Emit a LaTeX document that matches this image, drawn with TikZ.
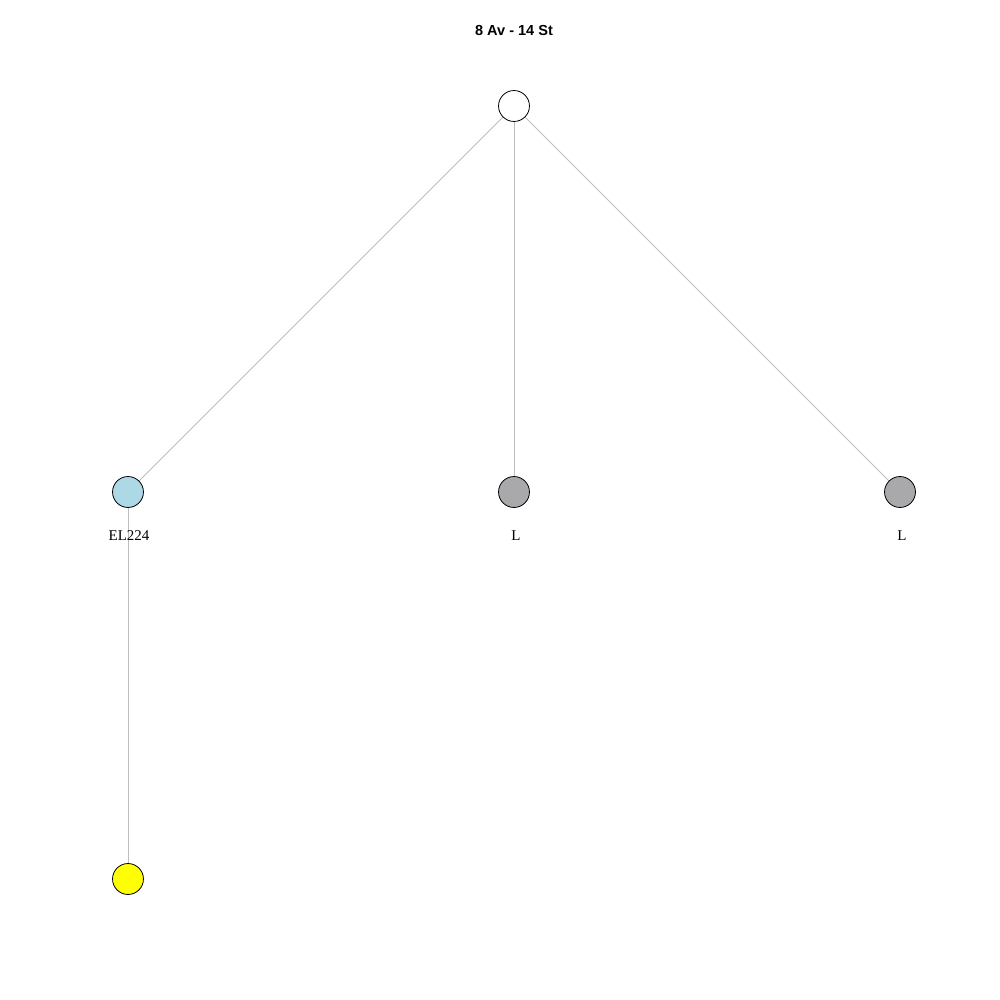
\documentclass[tikz,border=0pt]{standalone}
\usepackage{fontspec}
\setmainfont{Liberation Serif}
\setsansfont{Liberation Sans}
\definecolor{nodeblue}{HTML}{ADD8E6}
\definecolor{nodegray}{HTML}{A9A9AC}
\definecolor{nodeyellow}{HTML}{FFFF00}
\definecolor{edgegray}{HTML}{BEBEBE}
\begin{document}
\begin{tikzpicture}[x=0.75pt,y=-0.75pt,
  vert/.style={circle,draw=black,line width=0.6pt,minimum size=23.2pt,inner sep=0pt},
  edge/.style={draw=edgegray,line width=0.6pt},
  lab/.style={font=\fontsize{11.2}{13}\selectfont,inner sep=0pt}]
\useasboundingbox (0,0) rectangle (1000,1000);
\node[font=\sffamily\bfseries\fontsize{10.9}{13}\selectfont,inner sep=0pt] (title) at (514,30) {8 Av - 14 St};
\coordinate (pr) at (514,106);
\coordinate (pa) at (128,492);
\coordinate (pb) at (514,492);
\coordinate (pc) at (900,492);
\coordinate (pd) at (128,879);
\draw[edge] (pr) -- (pa);
\draw[edge] (pr) -- (pb);
\draw[edge] (pr) -- (pc);
\draw[edge] (pa) -- (pd);
\node[vert,fill=white] (r) at (pr) {};
\node[vert,fill=nodeblue] (a) at (pa) {};
\node[vert,fill=nodegray] (b) at (pb) {};
\node[vert,fill=nodegray] (c) at (pc) {};
\node[vert,fill=nodeyellow] (d) at (pd) {};
\node[lab] (la) at (129,535.5) {EL224};
\node[lab] (lb) at (516,535.5) {L};
\node[lab] (lc) at (902,535.5) {L};
\end{tikzpicture}
\end{document}
